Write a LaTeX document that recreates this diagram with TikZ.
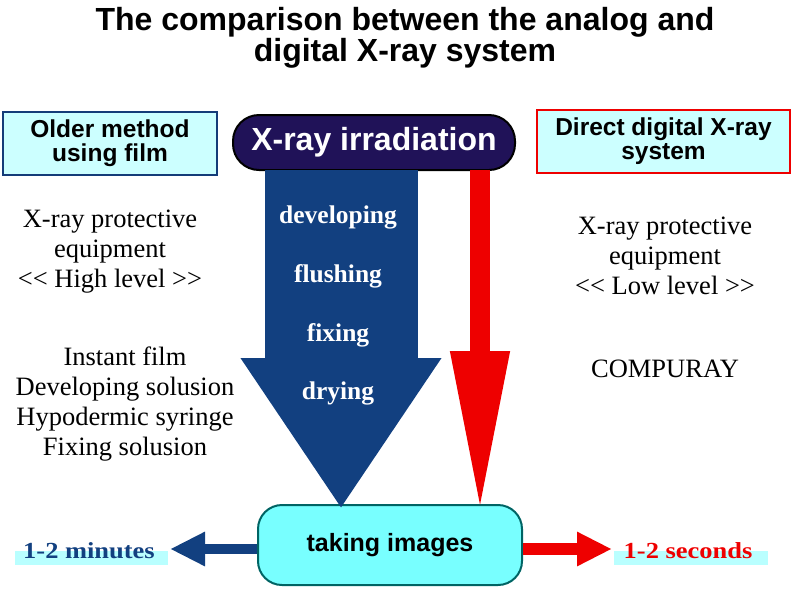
\documentclass[tikz,border=0pt]{standalone}
\usepackage{fontspec}
\setmainfont{Liberation Serif}
\setsansfont{Liberation Sans}
\newfontfamily\widebold[FakeStretch=1.15]{Liberation Serif}
\usepackage{xcolor}
\usetikzlibrary{arrows.meta}

\definecolor{xraynavy}{RGB}{32,18,88}
\definecolor{arrowblue}{RGB}{18,64,128}
\definecolor{boxcyan}{RGB}{204,255,255}
\definecolor{imgcyan}{RGB}{120,255,255}
\definecolor{bandcyan}{RGB}{185,255,255}
\definecolor{imgborder}{RGB}{0,100,100}
\definecolor{oldborder}{RGB}{20,60,120}
\definecolor{xred}{RGB}{238,0,0}

\tikzset{
  headbox/.style={draw, line width=2.5pt, fill=boxcyan, minimum width=#1, minimum height=63pt,
    align=center, font=\sffamily\bfseries\fontsize{24.5}{24}\selectfont},
  serifnote/.style={align=center, font=\fontsize{26.5}{30}\selectfont},
  steplabel/.style={text=white, font=\bfseries\fontsize{25.5}{28}\selectfont},
  timelabel/.style={font=\widebold\bfseries\fontsize{23}{24}\selectfont}
}

\begin{document}
\begin{tikzpicture}[x=1pt, y=-1pt]
      \useasboundingbox (0,0) rectangle (800,595);

      % Title
      \node[align=center, font=\sffamily\bfseries\fontsize{32}{28}\selectfont] (title) at (405,38)
        {The comparison between the analog and\\digital X-ray system};

      % Header boxes
      \node[headbox=214pt, draw=oldborder] (oldbox) at (110,143.5) {Older method\\using film};
      \node[headbox=253pt, draw=xred] (newbox) at (663.5,141.5) {Direct digital X-ray\\system};
      \node[draw=black, line width=2pt, fill=xraynavy, text=white, rounded corners=26pt,
        minimum width=282pt, minimum height=55pt,
        font=\sffamily\bfseries\fontsize{32}{32}\selectfont] (xray) at (374,142.5) {X-ray irradiation};

      % Result box
      \node[draw=imgborder, line width=2pt, fill=imgcyan, rounded corners=24pt,
        minimum width=264pt, minimum height=80pt,
        font=\sffamily\bfseries\fontsize{25}{24}\selectfont] (taking) at (390,545) {taking images};

      % Main arrows
      \coordinate (blueTop) at (341,170);
      \coordinate (redTop) at (480,170);
      \draw[arrowblue, line width=153pt, -{Triangle[length=151pt, width=190pt]}]
        (blueTop) -- ([yshift=-5pt]blueTop |- taking.north);
      \draw[xred, line width=20pt, -{Triangle[length=163pt, width=54pt]}]
        (redTop) -- ([yshift=-10pt]redTop |- taking.north);

      % Steps inside the blue arrow
      \node[steplabel] (develop) at (338,217) {developing};
      \node[steplabel] (flush) at (338,276) {flushing};
      \node[steplabel] (fix) at (338,335) {fixing};
      \node[steplabel] (dry) at (338,393) {drying};

      % Side notes
      \node[serifnote] (oldprot) at (110,252) {X-ray protective\\equipment\\<{}< High level >{}>};
      \node[serifnote] (oldmat) at (125,404) {Instant film\\Developing solusion\\Hypodermic syringe\\Fixing solusion};
      \node[serifnote] (newprot) at (665,256) {X-ray protective\\equipment\\<{}< Low level >{}>};
      \node[serifnote] (compuray) at (665,369) {COMPURAY};

      % Time bands
      \fill[bandcyan] (15,551) rectangle (168,565);
      \fill[bandcyan] (614,551) rectangle (768,565);
      \node[timelabel, text=arrowblue] (minutes) at (89,551) {1-2 minutes};
      \node[timelabel, text=xred] (seconds) at (688,551) {1-2 seconds};

      % Time arrows
      \coordinate (minTip) at (170,549);
      \coordinate (secTip) at (612,549);
      \draw[arrowblue, line width=10pt, -{Triangle[length=35pt, width=32pt]}] (taking.west |- minTip) -- (minTip);
      \draw[xred, line width=12pt, -{Triangle[length=35pt, width=32pt]}] (taking.east |- secTip) -- (secTip);
    \end{tikzpicture}
\end{document}
